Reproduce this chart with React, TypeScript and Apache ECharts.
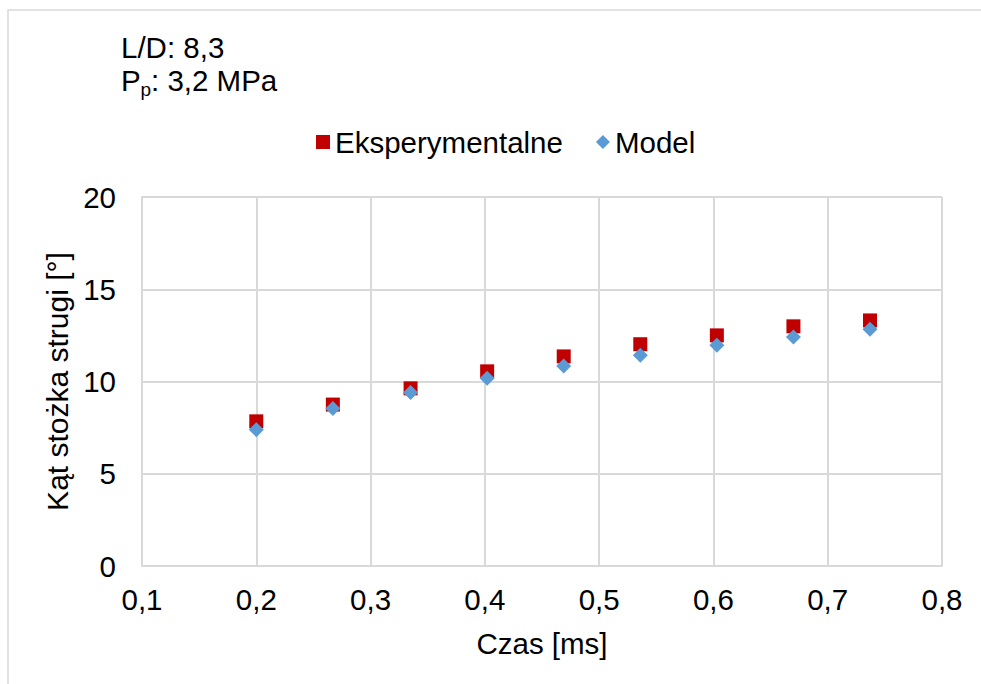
import React, { useEffect, useRef } from "react";
import * as echarts from "echarts";

const czas = [0.2, 0.267, 0.335, 0.402, 0.469, 0.536, 0.603, 0.67, 0.737];
const eksperymentalne = [7.84, 8.75, 9.63, 10.55, 11.36, 12.02, 12.5, 12.99, 13.31];
const model = [7.39, 8.53, 9.41, 10.17, 10.84, 11.42, 11.96, 12.41, 12.83];
const seriesNames = ["Eksperymentalne", "Model"];

const FONT = "'Liberation Sans', Arial, sans-serif";
const FS = 29.5;

export default function App() {
  const ref = useRef<HTMLDivElement>(null);
  useEffect(() => {
    if (!ref.current) return;
    const chart = echarts.init(ref.current, undefined, { renderer: "svg" });
    const fmt = (v: number) => v.toFixed(1).replace(".", ",");
    chart.setOption({
      animation: false,
      backgroundColor: "#ffffff",
      textStyle: { fontFamily: FONT },
      grid: { left: 142, right: 39, top: 197, bottom: 118, containLabel: false },
      legend: {
        left: 316,
        top: 127,
        padding: 0,
        itemGap: 33,
        itemWidth: 14,
        itemHeight: 14,
        textStyle: { fontSize: FS, color: "#000", fontFamily: FONT },
        data: [
          { name: seriesNames[0], icon: "rect" },
          { name: seriesNames[1], icon: "diamond" },
        ],
      },
      xAxis: {
        type: "value",
        min: 0.1,
        max: 0.8,
        interval: 0.1,
        name: "Czas [ms]",
        nameLocation: "middle",
        nameGap: 62,
        nameTextStyle: { fontSize: FS, color: "#000", fontFamily: FONT },
        axisLine: { show: true, lineStyle: { color: "#d9d9d9", width: 2 } },
        axisTick: { show: false },
        axisLabel: { fontSize: FS, color: "#000", margin: 18, formatter: fmt, fontFamily: FONT },
        splitLine: { show: true, lineStyle: { color: "#d9d9d9", width: 2 } },
      },
      yAxis: {
        type: "value",
        min: 0,
        max: 20,
        interval: 5,
        name: "Kąt stożka strugi [°]",
        nameLocation: "middle",
        nameGap: 66,
        nameTextStyle: { fontSize: 30, color: "#000", fontFamily: FONT },
        axisLine: { show: true, lineStyle: { color: "#d9d9d9", width: 2 } },
        axisTick: { show: false },
        axisLabel: { fontSize: FS, color: "#000", margin: 26, fontFamily: FONT },
        splitLine: { show: true, lineStyle: { color: "#d9d9d9", width: 2 } },
      },
      graphic: [
        {
          type: "rect",
          shape: { x: 8, y: 10, width: 1000, height: 700 },
          style: { fill: "none", stroke: "#d9d9d9", lineWidth: 1.5 },
          silent: true,
        },
        {
          type: "text",
          x: 121,
          y: 47,
          style: { text: "L/D: 8,3", fontSize: FS, fill: "#000", verticalAlign: "middle", fontFamily: FONT },
        },
        {
          type: "text",
          x: 121,
          y: 80,
          style: { text: "P", fontSize: FS, fill: "#000", verticalAlign: "middle", fontFamily: FONT },
        },
        {
          type: "text",
          x: 140.5,
          y: 89,
          style: { text: "p", fontSize: 19, fill: "#000", verticalAlign: "middle", fontFamily: FONT },
        },
        {
          type: "text",
          x: 151,
          y: 80,
          style: { text: ": 3,2 MPa", fontSize: FS, fill: "#000", verticalAlign: "middle", fontFamily: FONT },
        },
      ],
      series: [
        {
          name: seriesNames[0],
          type: "scatter",
          symbol: "rect",
          symbolSize: 14,
          itemStyle: { color: "#C00000", opacity: 1 },
          data: czas.map((x, i) => [x, eksperymentalne[i]]),
          z: 2,
        },
        {
          name: seriesNames[1],
          type: "scatter",
          symbol: "diamond",
          symbolSize: 15,
          itemStyle: { color: "#5B9BD5", opacity: 1 },
          data: czas.map((x, i) => [x, model[i]]),
          z: 3,
        },
      ],
    });
    return () => chart.dispose();
  }, []);
  return (
    <div
      ref={ref}
      style={{ position: "fixed", left: 0, top: 0, width: 981, height: 684 }}
    />
  );
}
